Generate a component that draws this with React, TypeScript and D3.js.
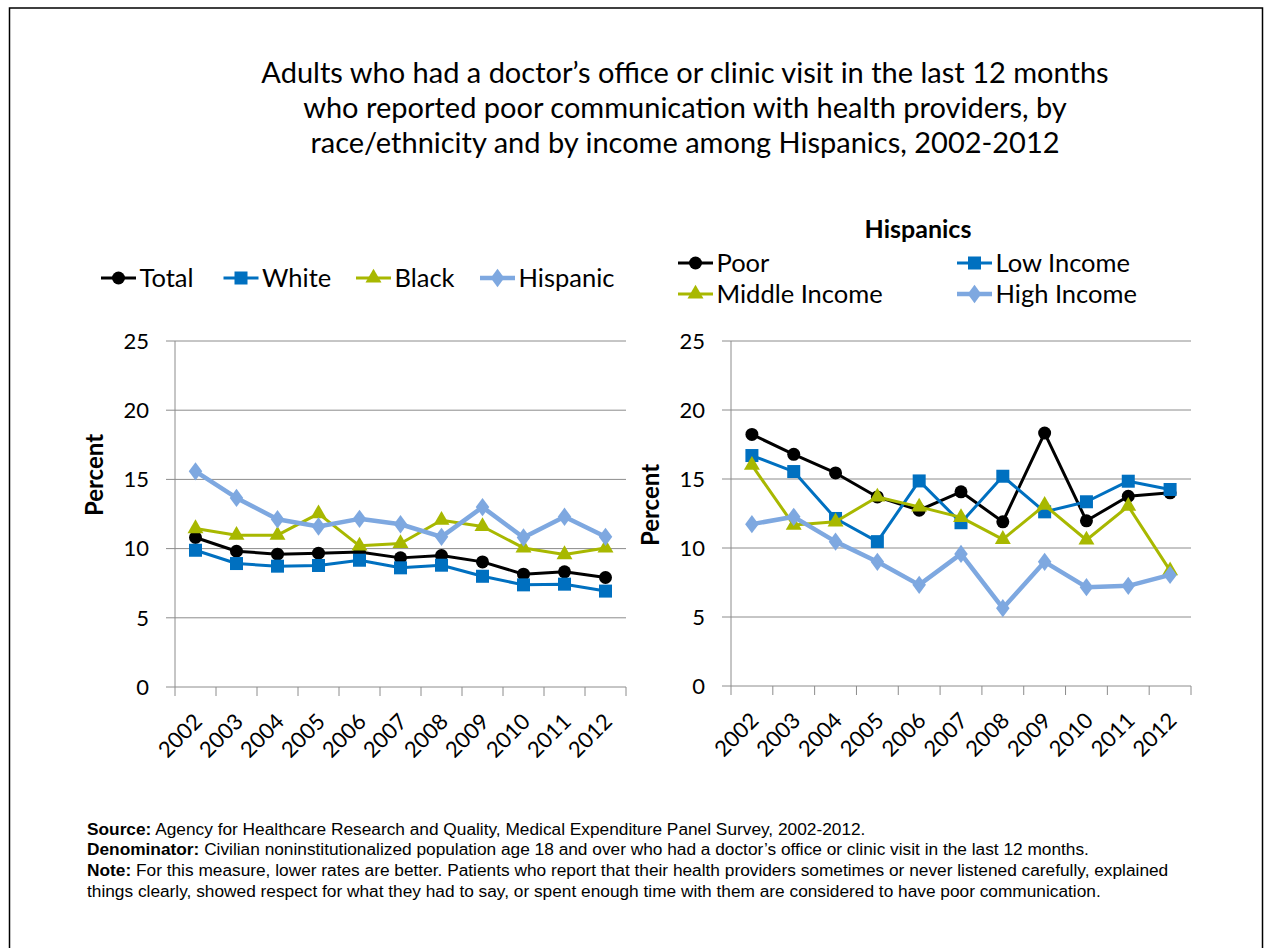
import React from "react";
import * as d3 from "d3";

const years = ["2002","2003","2004","2005","2006","2007","2008","2009","2010","2011","2012"];
const yTicks = [0, 5, 10, 15, 20, 25];

const total = [10.8, 9.81, 9.6, 9.67, 9.76, 9.33, 9.5, 9.04, 8.15, 8.32, 7.91];
const white = [9.88, 8.92, 8.73, 8.78, 9.16, 8.61, 8.8, 8.0, 7.38, 7.43, 6.93];
const black = [11.45, 10.97, 10.97, 12.53, 10.2, 10.37, 12.05, 11.6, 10.05, 9.57, 10.05];
const hispanic = [15.58, 13.66, 12.12, 11.6, 12.15, 11.76, 10.85, 13.0, 10.8, 12.3, 10.85];

const poor = [18.23, 16.79, 15.44, 13.7, 12.74, 14.07, 11.9, 18.33, 11.97, 13.75, 14.0];
const lowIncome = [16.7, 15.54, 12.14, 10.46, 14.86, 11.83, 15.2, 12.62, 13.35, 14.84, 14.24];
const middleIncome = [16.0, 11.66, 11.9, 13.7, 12.98, 12.22, 10.63, 13.1, 10.58, 13.03, 8.36];
const highIncome = [11.73, 12.26, 10.46, 9.0, 7.33, 9.57, 5.64, 9.0, 7.16, 7.26, 8.05];

const titleLines = [
  "Adults who had a doctor\u2019s office or clinic visit in the last 12 months",
  "who reported poor communication with health providers, by",
  "race/ethnicity and by income among Hispanics, 2002-2012",
];

const C_BLACK = "#000000";
const C_BLUE = "#0070C0";
const C_OLIVE = "#A8B800";
const C_LIGHT = "#7EA8E0";

type Shape = "circle" | "square" | "triangle" | "diamond";
interface Series { name: string; values: number[]; color: string; shape: Shape; width: number; }

const leftSeries: Series[] = [
  { name: "Total", values: total, color: C_BLACK, shape: "circle", width: 3 },
  { name: "White", values: white, color: C_BLUE, shape: "square", width: 3 },
  { name: "Black", values: black, color: C_OLIVE, shape: "triangle", width: 3 },
  { name: "Hispanic", values: hispanic, color: C_LIGHT, shape: "diamond", width: 4.5 },
];
const rightSeries: Series[] = [
  { name: "Poor", values: poor, color: C_BLACK, shape: "circle", width: 3 },
  { name: "Low Income", values: lowIncome, color: C_BLUE, shape: "square", width: 3 },
  { name: "Middle Income", values: middleIncome, color: C_OLIVE, shape: "triangle", width: 3 },
  { name: "High Income", values: highIncome, color: C_LIGHT, shape: "diamond", width: 4.5 },
];

const CAL = "Lato, 'Open Sans', sans-serif";
const ARIAL = "'Liberation Sans', Arial, sans-serif";

function Marker({ shape, x, y, color }: { shape: Shape; x: number; y: number; color: string }) {
  if (shape === "circle") return <circle cx={x} cy={y} r={6.5} fill={color} />;
  if (shape === "square") return <rect x={x - 6.5} y={y - 6.5} width={13} height={13} fill={color} />;
  if (shape === "triangle") {
    const p = d3.symbol().type(d3.symbolTriangle).size(110)();
    return <path d={p || ""} transform={`translate(${x},${y})`} fill={color} />;
  }
  const p = d3.symbol().type(d3.symbolDiamond).size(120)();
  return <path d={p || ""} transform={`translate(${x},${y}) scale(1.15,0.9)`} fill={color} />;
}

function Panel({ series, x0, x1, y0, y1, percentY }: { series: Series[]; x0: number; x1: number; y0: number; y1: number; percentY: number }) {
  const x = d3.scaleBand<string>().domain(years).range([x0, x1]).padding(0);
  const y = d3.scaleLinear().domain([0, 25]).range([y1, y0]);
  const bw = x.bandwidth();
  const grid = "#8C8C8C";
  return (
    <g>
      {yTicks.map((t) => (
        <g key={t}>
          {t > 0 && <line x1={x0} x2={x1} y1={y(t)} y2={y(t)} stroke={grid} strokeWidth={1} />}
          <line x1={x0 - 9} x2={x0} y1={y(t)} y2={y(t)} stroke={grid} strokeWidth={1} />
          <text x={x0 - 26} y={y(t)} dy="0.35em" textAnchor="end" fontFamily={CAL} fontSize={22} fill="#000">{t}</text>
        </g>
      ))}
      <line x1={x0} x2={x0} y1={y0} y2={y1} stroke={grid} strokeWidth={1} />
      <line x1={x0} x2={x1} y1={y1} y2={y1} stroke={grid} strokeWidth={1} />
      {[...years.map((yr) => x(yr) as number), x1].map((tx, i) => (
        <line key={i} x1={tx} x2={tx} y1={y1} y2={y1 + 9} stroke={grid} strokeWidth={1} />
      ))}
      {years.map((yr) => {
        const cx = (x(yr) as number) + bw / 2 + 8;
        const cy = y1 + 36;
        return (
          <text key={yr} transform={`translate(${cx},${cy}) rotate(-45)`} textAnchor="end" fontFamily={CAL} fontSize={22} fill="#000">{yr}</text>
        );
      })}
      <text transform={`translate(${x0 - 72},${percentY}) rotate(-90)`} textAnchor="middle" fontFamily={CAL} fontSize={24} fontWeight="bold" fill="#000">Percent</text>
      {series.map((s) => {
        const line = d3.line<number>().x((_, i) => (x(years[i]) as number) + bw / 2).y((v) => y(v));
        return (
          <g key={s.name}>
            <path d={line(s.values) || ""} fill="none" stroke={s.color} strokeWidth={s.width} strokeLinejoin="round" />
            {s.values.map((v, i) => (
              <Marker key={i} shape={s.shape} x={(x(years[i]) as number) + bw / 2} y={y(v)} color={s.color} />
            ))}
          </g>
        );
      })}
    </g>
  );
}

function LegendItem({ s, x, y, fs }: { s: Series; x: number; y: number; fs: number }) {
  return (
    <g>
      <line x1={x} x2={x + 35} y1={y} y2={y} stroke={s.color} strokeWidth={s.width} />
      <Marker shape={s.shape} x={x + 17.5} y={y} color={s.color} />
      <text x={x + 38.5} y={y} dy="0.35em" fontFamily={CAL} fontSize={fs} fill="#000">{s.name}</text>
    </g>
  );
}

export default function App() {
  return (
    <svg width={1264} height={948} style={{ position: "absolute", left: 0, top: 0, background: "#fff" }}>
      <rect x={0} y={0} width={1264} height={948} fill="#fff" />
      <rect x={9.5} y={8} width={1253} height={960} fill="none" stroke="#000" strokeWidth={1.5} />
      {titleLines.map((t, i) => (
        <text key={i} x={685} y={83 + i * 35} textAnchor="middle" fontFamily={CAL} fontSize={29} fill="#000">{t}</text>
      ))}
      <LegendItem s={leftSeries[0]} x={101} y={278} fs={25.5} />
      <LegendItem s={leftSeries[1]} x={223.5} y={278} fs={25.5} />
      <LegendItem s={leftSeries[2]} x={356} y={278} fs={25.5} />
      <LegendItem s={leftSeries[3]} x={480} y={278} fs={25.5} />
      <text x={918} y={229} dy="0.35em" textAnchor="middle" fontFamily={CAL} fontSize={25} fontWeight="bold" fill="#000">Hispanics</text>
      <LegendItem s={rightSeries[0]} x={678} y={263} fs={25.5} />
      <LegendItem s={rightSeries[1]} x={957} y={263} fs={25.5} />
      <LegendItem s={rightSeries[2]} x={678} y={294} fs={25.5} />
      <LegendItem s={rightSeries[3]} x={957} y={294} fs={25.5} />
      <Panel series={leftSeries} x0={175} x1={626} y0={341} y1={687} percentY={475} />
      <Panel series={rightSeries} x0={731} x1={1191} y0={341} y1={686} percentY={505} />
      <g fontFamily={ARIAL} fontSize={17.3} fill="#000">
        <text x={87} y={835}><tspan fontWeight="bold">Source:</tspan> Agency for Healthcare Research and Quality, Medical Expenditure Panel Survey, 2002-2012.</text>
        <text x={87} y={855}><tspan fontWeight="bold">Denominator:</tspan> Civilian noninstitutionalized population age 18 and over who had a doctor{"\u2019"}s office or clinic visit in the last 12 months.</text>
        <text x={87} y={876}><tspan fontWeight="bold">Note:</tspan> For this measure, lower rates are better. Patients who report that their health providers sometimes or never listened carefully, explained</text>
        <text x={87} y={897}>things clearly, showed respect for what they had to say, or spent enough time with them are considered to have poor communication.</text>
      </g>
    </svg>
  );
}
